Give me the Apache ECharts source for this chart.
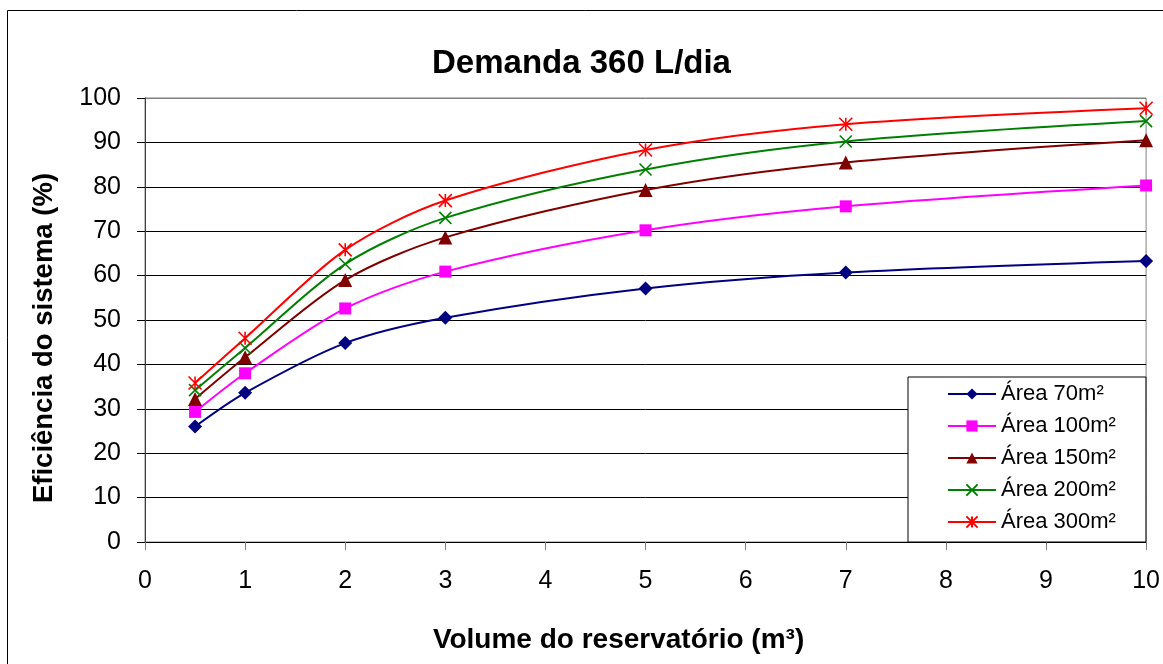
<!DOCTYPE html>
<html>
<head>
<meta charset="utf-8">
<script src="https://cdn.jsdelivr.net/npm/echarts@6/dist/echarts.min.js"></script>
<style>
  html, body { margin: 0; padding: 0; background: #fff; }
  #chart { width: 1163px; height: 664px; }
</style>
</head>
<body>
<div id="chart"></div>
<script>
// volumes do reservatório (m³)
var volumes = [0.5, 1, 2, 3, 5, 7, 10];
// eficiência (%) por área de captação
var area70 = [26.0, 33.6, 44.8, 50.5, 57.1, 60.7, 63.3];
var area100 = [29.3, 38.0, 52.6, 60.9, 70.2, 75.6, 80.3];
var area150 = [32.2, 41.6, 59.0, 68.6, 79.3, 85.5, 90.5];
var area200 = [34.2, 43.7, 62.6, 73.0, 83.9, 90.2, 94.8];
var area300 = [35.8, 45.9, 65.8, 76.9, 88.3, 94.1, 97.7];
var seriesNames = ['Área 70m²', 'Área 100m²', 'Área 150m²', 'Área 200m²', 'Área 300m²'];

var FONT = '"Liberation Sans", Arial, sans-serif';
var xPath = 'path://M0 0 L10 10 M10 0 L0 10';
var starPath = 'path://M5 0 L5 10 M0 0 L10 10 M10 0 L0 10';

function pairs(vals) {
  return volumes.map(function (v, i) { return [v, vals[i]]; });
}

function mkSeries(name, vals, color, symbol, size, stroke) {
  return {
    name: name,
    type: 'line',
    data: pairs(vals),
    smooth: 0.3,
    symbol: symbol,
    symbolSize: size,
    showAllSymbol: true,
    lineStyle: { color: color, width: 2 },
    itemStyle: stroke
      ? { color: 'none', borderColor: color, borderWidth: 1.6 }
      : { color: color, borderWidth: 0 },
    emphasis: { disabled: true },
    z: 3
  };
}

var gridColors = [];
for (var i = 0; i < 11; i++) gridColors.push(i === 10 ? '#808080' : '#000');

var chart = echarts.init(document.getElementById('chart'));
chart.setOption({
  animation: false,
  backgroundColor: '#fff',
  textStyle: { fontFamily: FONT },
  graphic: [{
    type: 'rect',
    shape: { x: 7.5, y: 10.5, width: 1200, height: 700 },
    style: { fill: 'none', stroke: '#000', lineWidth: 1 },
    silent: true,
    z: -10
  }],
  title: {
    text: 'Demanda 360 L/dia',
    left: 'center',
    top: 42,
    textStyle: { fontFamily: FONT, fontSize: 33, fontWeight: 'bold', color: '#000' }
  },
  grid: {
    left: 145, right: 16, top: 98, bottom: 122,
    show: true, borderColor: '#808080', borderWidth: 1
  },
  legend: {
    orient: 'vertical',
    left: 908, top: 377,
    padding: [6, 30, 9, 39],
    backgroundColor: '#fff',
    borderColor: '#000', borderWidth: 1,
    itemWidth: 48, itemHeight: 14, itemGap: 10,
    textStyle: { fontFamily: FONT, fontSize: 22, color: '#000', lineHeight: 22 },
    data: seriesNames
  },
  xAxis: {
    type: 'value',
    min: 0, max: 10, interval: 1,
    name: 'Volume do reservatório (m³)',
    nameLocation: 'middle',
    nameGap: 84,
    nameTextStyle: {
      fontFamily: FONT, fontSize: 28, fontWeight: 'bold', color: '#000',
      padding: [0, 54, 0, 0]
    },
    axisLine: { lineStyle: { color: '#000', width: 1 } },
    axisTick: { length: 8, lineStyle: { color: '#808080' } },
    axisLabel: { fontFamily: FONT, fontSize: 25, color: '#000', margin: 27 },
    splitLine: { show: false }
  },
  yAxis: {
    type: 'value',
    min: 0, max: 100, interval: 10,
    name: 'Eficiência do sistema (%)',
    nameLocation: 'middle',
    nameGap: 87,
    nameTextStyle: {
      fontFamily: FONT, fontSize: 27.5, fontWeight: 'bold', color: '#000',
      padding: [0, 36, 0, 0]
    },
    axisLine: { show: true, lineStyle: { color: '#404040', width: 1 } },
    axisTick: { show: true, length: 8, lineStyle: { color: '#000' } },
    axisLabel: { fontFamily: FONT, fontSize: 25, color: '#000', margin: 24 },
    splitLine: { show: true, lineStyle: { color: gridColors, width: 1 } }
  },
  series: [
    mkSeries(seriesNames[0], area70, '#000080', 'diamond', 14, false),
    mkSeries(seriesNames[1], area100, '#FF00FF', 'rect', 12, false),
    mkSeries(seriesNames[2], area150, '#800000', 'triangle', 14, false),
    mkSeries(seriesNames[3], area200, '#008000', xPath, 12, true),
    mkSeries(seriesNames[4], area300, '#FF0000', starPath, 13, true)
  ]
});
</script>
</body>
</html>
